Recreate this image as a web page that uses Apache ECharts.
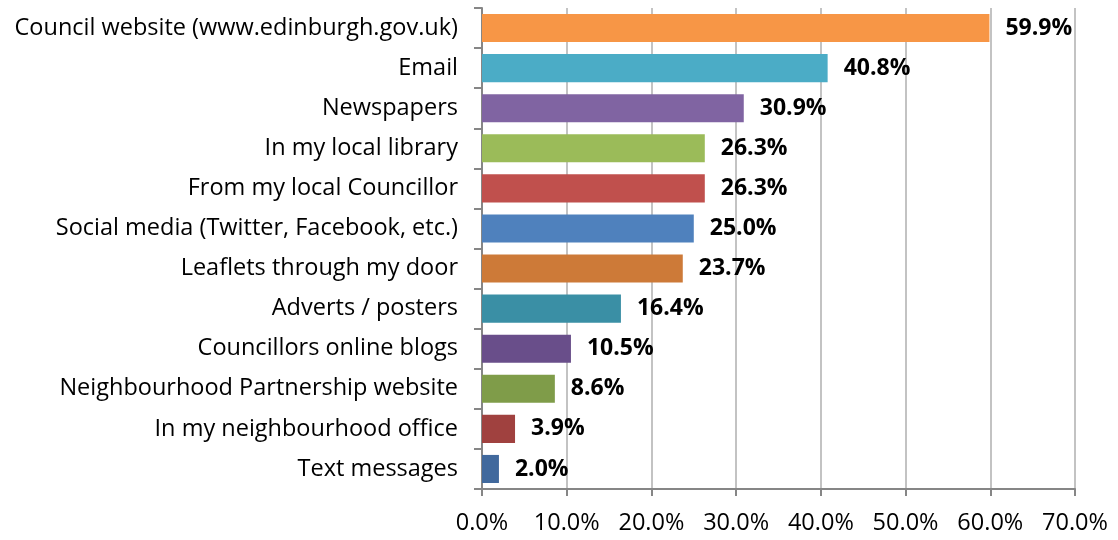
<!DOCTYPE html>
<html>
<head>
<meta charset="utf-8">
<script src="https://cdn.jsdelivr.net/npm/echarts@6/dist/echarts.min.js"></script>
<style>
  html, body { margin: 0; padding: 0; background: #fff; }
  #chart { width: 1118px; height: 540px; }
</style>
</head>
<body>
<div id="chart"></div>
<script>
// Channels, listed top to bottom
const categories = [
  'Council website (www.edinburgh.gov.uk)',
  'Email',
  'Newspapers',
  'In my local library',
  'From my local Councillor',
  'Social media (Twitter, Facebook, etc.)',
  'Leaflets through my door',
  'Adverts / posters',
  'Councillors online blogs',
  'Neighbourhood Partnership website',
  'In my neighbourhood office',
  'Text messages'
];
// Share of respondents (%)
const values = [59.9, 40.8, 30.9, 26.3, 26.3, 25.0, 23.7, 16.4, 10.5, 8.6, 3.9, 2.0];
const barColors = [
  '#F79646', '#4BACC6', '#8064A2', '#9BBB59', '#C0504D', '#4F81BD',
  '#CD7A38', '#3A8FA5', '#694E8A', '#7F9C49', '#A0413F', '#41699D'
];

const FONT = '"Open Sans", Lato, sans-serif';
const chart = echarts.init(document.getElementById('chart'), null, { renderer: 'canvas' });
chart.setOption({
  animation: false,
  grid: { left: 482, right: 43, top: 8, bottom: 51, containLabel: false },
  xAxis: {
    type: 'value',
    min: 0, max: 70, interval: 10,
    axisLine: { show: true, lineStyle: { color: '#868686', width: 2 } },
    axisTick: { show: true, length: 7, lineStyle: { color: '#868686', width: 2 } },
    axisLabel: {
      formatter: v => v.toFixed(1) + '%',
      color: '#000', fontFamily: FONT, fontSize: 23.5, margin: 22
    },
    splitLine: { show: true, lineStyle: { color: '#C3C3C3', width: 2 } }
  },
  yAxis: {
    type: 'category',
    inverse: true,
    data: categories,
    axisLine: { show: true, lineStyle: { color: '#868686', width: 2 } },
    axisTick: { show: true, length: 8, lineStyle: { color: '#868686', width: 2 } },
    axisLabel: {
      color: '#000', fontFamily: FONT, fontSize: 23.5, margin: 24,
      padding: [5, 0, 0, 0]
    },
    splitLine: { show: false }
  },
  series: [{
    type: 'bar',
    data: values.map((v, i) => ({ value: v, itemStyle: { color: barColors[i] } })),
    barCategoryGap: '30%',
    label: {
      show: true,
      position: 'right',
      distance: 16,
      padding: [5, 0, 0, 0],
      formatter: p => p.value.toFixed(1) + '%',
      color: '#000', fontFamily: FONT, fontWeight: 'bold', fontSize: 23
    }
  }]
});
</script>
</body>
</html>
